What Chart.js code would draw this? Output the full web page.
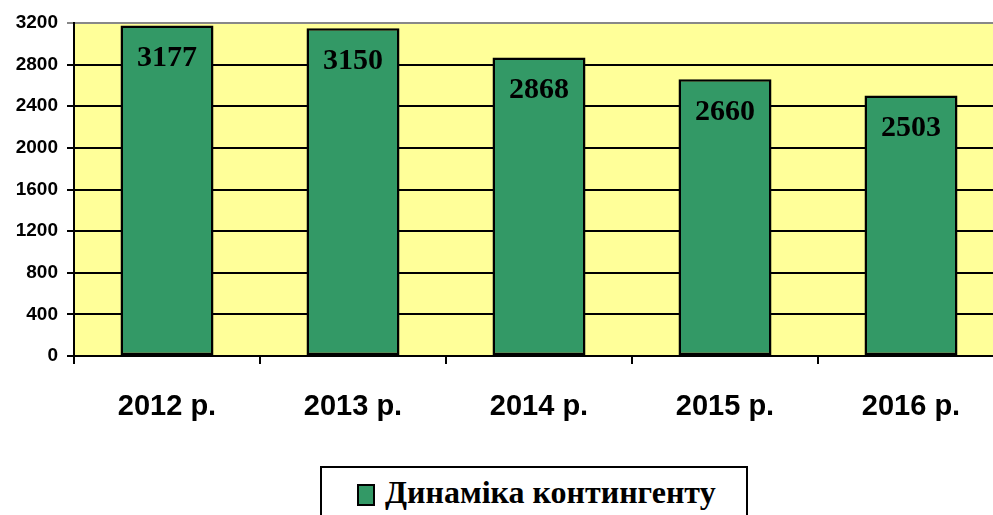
<!doctype html>
<html>
<head>
<meta charset="utf-8" />
<title>Динаміка контингенту</title>
<style>
  html, body { margin: 0; padding: 0; background: #fff; overflow: hidden; width: 993px; height: 515px; }
  #wrap { position: absolute; left: 0; top: 0; width: 1010px; height: 460px; }
  #legend { position: absolute; left: 320px; top: 466px; width: 428px; height: 60px; border: 2px solid #000; box-sizing: border-box; background: #fff;
    font: bold 32px "Liberation Serif", "Times New Roman", serif; color: #000; }
  #legend .sw { position: absolute; left: 35px; top: 16px; width: 14px; height: 18px; background: #339966; border: 2px solid #000; }
  #legend .tx { position: absolute; left: 63px; top: 6px; white-space: nowrap; }
</style>
<script src="https://cdn.jsdelivr.net/npm/chart.js"></script>
</head>
<body>
<div id="wrap"><canvas id="c" width="1010" height="460"></canvas></div>
<div id="legend"><span class="sw"></span><span class="tx">Динаміка контингенту</span></div>
<script>
const years = ['2012 р.', '2013 р.', '2014 р.', '2015 р.', '2016 р.'];
const contingent = [3177, 3150, 2868, 2660, 2503];
const seriesName = 'Динаміка контингенту';
const yTicks = [0, 400, 800, 1200, 1600, 2000, 2400, 2800, 3200];

const plotBg = {
  id: 'plotBg',
  beforeDraw(chart) {
    const { ctx, chartArea: a } = chart;
    ctx.save();
    ctx.fillStyle = '#FFFF99';
    ctx.fillRect(a.left, a.top, a.right - a.left, a.bottom - a.top);
    ctx.restore();
  }
};

const barLabels = {
  id: 'barLabels',
  afterDatasetsDraw(chart) {
    const { ctx } = chart;
    const meta = chart.getDatasetMeta(0);
    ctx.save();
    ctx.font = 'bold 30px "Liberation Serif", "Times New Roman", serif';
    ctx.fillStyle = '#000';
    ctx.textAlign = 'center';
    ctx.textBaseline = 'middle';
    meta.data.forEach((bar, i) => {
      ctx.fillText(String(contingent[i]), bar.x, bar.y + 33);
    });
    ctx.restore();
  }
};

new Chart(document.getElementById('c'), {
  type: 'bar',
  data: {
    labels: years,
    datasets: [{
      label: seriesName,
      data: contingent,
      backgroundColor: '#339966',
      borderColor: '#000',
      borderWidth: 2.5,
      borderSkipped: false,
      barPercentage: 0.5,
      categoryPercentage: 1
    }]
  },
  options: {
    responsive: false,
    animation: false,
    layout: { padding: { top: 23, right: 6, left: 0, bottom: 0 } },
    plugins: { legend: { display: false }, tooltip: { enabled: false } },
    scales: {
      x: {
        offset: true,
        grid: { offset: true, drawOnChartArea: false, color: '#000', lineWidth: 2, tickLength: 8 },
        border: { display: false },
        ticks: { color: '#000', padding: 26, font: { family: 'Arial, "Liberation Sans", sans-serif', size: 29, weight: 'bold' } },
        afterFit(s) { s.height = 104; }
      },
      y: {
        min: 0, max: 3200,
        afterBuildTicks(s) { s.ticks = yTicks.map(v => ({ value: v })); },
        grid: {
          color: (c) => c.tick && c.tick.value === 3200 ? '#888' : '#000',
          lineWidth: 2, tickLength: 7
        },
        border: { color: '#000', width: 2 },
        ticks: {
          color: '#000', padding: 9,
          font: { family: 'Arial, "Liberation Sans", sans-serif', size: 19, weight: 'bold' },
          callback: (v) => String(v)
        },
        afterFit(s) { s.width = 74; }
      }
    }
  },
  plugins: [plotBg, barLabels]
});
</script>
</body>
</html>
